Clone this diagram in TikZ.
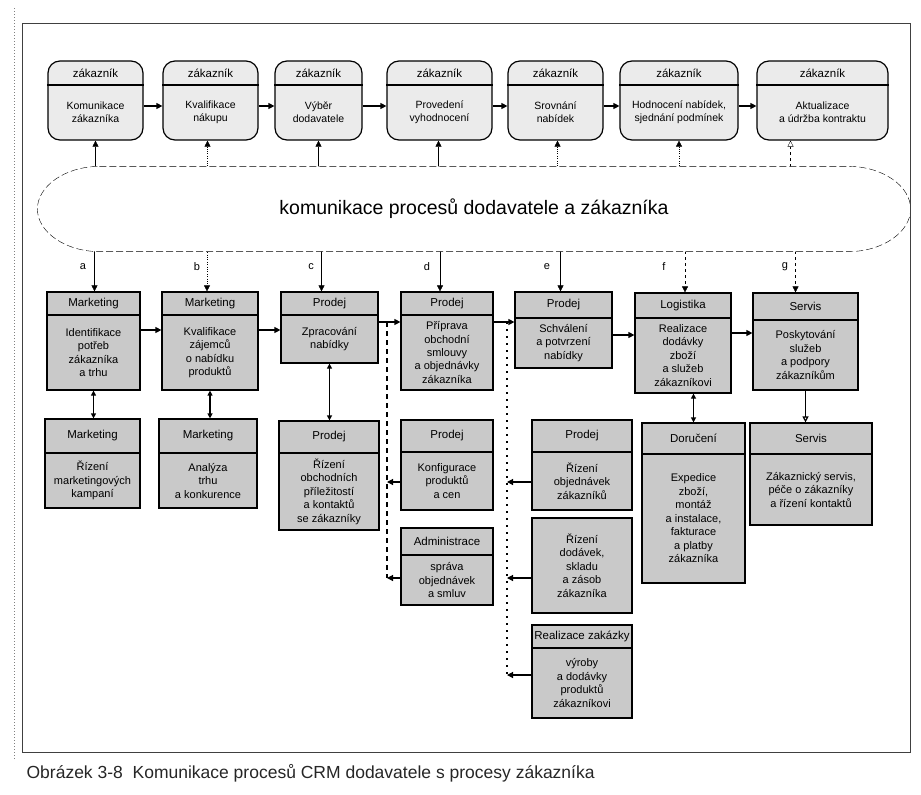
\documentclass[tikz,border=0pt]{standalone}
\usepackage{fontspec}
\setmainfont{Liberation Sans}
\usetikzlibrary{arrows.meta,backgrounds,calc}
\tikzset{
  arr/.style={-{Triangle[length=6pt,width=6pt]}},
  oarr/.style={-{Triangle[open,length=6pt,width=6pt]}},
  darr/.style={{Triangle[length=5pt,width=5pt]}-{Triangle[length=5pt,width=5pt]}},
  topbox/.style={draw, rounded corners=12pt, fill=gray!16, inner sep=0pt},
  lowbox/.style={draw, fill=gray!42, inner sep=0pt},
  hdr/.style={font=\fontsize{11.5}{12}\selectfont, inner sep=0pt},
  bdy/.style={font=\fontsize{11}{13.5}\selectfont, align=center, inner sep=0pt},
  tbdy/.style={font=\fontsize{10.5}{13}\selectfont, align=center, inner sep=0pt},
  lbl/.style={font=\fontsize{11}{12}\selectfont, inner sep=0pt},
}
\newcommand\TopBox[5]{%
  \node[topbox, minimum width={(#3-#2)*1pt}, minimum height=79pt] (#1) at ({(#2+#3)/2},100.5) {};
  \draw (#1.west |- 0,85) -- (#1.east |- 0,85);
  \node[hdr] (#1h) at (#1.center |- 0,73) {#4};
  \node[tbdy] (#1b) at (#1.center |- 0,112) {#5};
}
\newcommand\LowBox[8]{%
  \node[lowbox, minimum width={(#4-#2)*1pt}, minimum height={(#5-#3)*1pt}] (#1) at ({(#2+#4)/2},{(#3+#5)/2}) {};
  \draw (#1.west |- 0,#6) -- (#1.east |- 0,#6);
  \node[hdr] (#1h) at ({(#2+#4)/2},{(#3+#6)/2}) {#7};
  \node[bdy] (#1b) at ({(#2+#4)/2},{(#6+#5)/2}) {#8};
}
\begin{document}
\begin{tikzpicture}[x=1pt,y=-1pt,line width=1.2pt]
\useasboundingbox (0,0) rectangle (921,795);
% frame
\draw[black!75, line width=1pt] (22,23) rectangle (910,752);
\draw[black!50, dotted, line width=1pt] (14,8) -- (14,760);

% top row
\TopBox{t1}{48}{143}{zákazník}{Komunikace\\zákazníka}
\TopBox{t2}{163}{258}{zákazník}{Kvalifikace\\nákupu}
\TopBox{t3}{275}{362}{zákazník}{Výběr\\dodavatele}
\TopBox{t4}{387}{492}{zákazník}{Provedení\\vyhodnocení}
\TopBox{t5}{508}{603}{zákazník}{Srovnání\\nabídek}
\TopBox{t6}{620}{738}{zákazník}{Hodnocení nabídek,\\sjednání podmínek}
\TopBox{t7}{757}{888}{zákazník}{Aktualizace\\a údržba kontraktu}

\foreach \a/\b in {t1/t2,t2/t3,t3/t4,t4/t5,t5/t6,t6/t7}
  \draw[arr] (\a.east |- 0,106) -- (\b.west |- 0,106);

% ellipse
\node[font=\fontsize{19.5}{21}\selectfont, minimum width=872pt, minimum height=84pt, inner sep=0pt] (E) at (474,209) {komunikace procesů dodavatele a zákazníka};

% middle row
\LowBox{ma}{47}{292}{140}{390}{315}{Marketing}{Identifikace\\potřeb\\zákazníka\\a trhu}
\LowBox{mb}{162}{292}{258}{390}{315}{Marketing}{Kvalifikace\\zájemců\\o nabídku\\produktů}
\LowBox{mc}{281}{292}{378}{363}{315}{Prodej}{Zpracování\\nabídky}
\LowBox{md}{401}{292}{493}{390}{315}{Prodej}{Příprava\\obchodní\\smlouvy\\a objednávky\\zákazníka}
\LowBox{me}{515}{292}{612}{368}{318}{Prodej}{Schválení\\a potvrzení\\nabídky}
\LowBox{mf}{635}{293}{731}{393}{318}{Logistika}{Realizace\\dodávky\\zboží\\a služeb\\zákazníkovi}
\LowBox{mg}{753}{293}{858}{390}{320}{Servis}{Poskytování\\služeb\\a podpory\\zákazníkům}

% third row
\LowBox{la}{45}{419}{140}{508}{453}{Marketing}{Řízení\\marketingových\\kampaní}
\LowBox{lb}{159}{419}{257}{508}{453}{Marketing}{Analýza\\trhu\\a konkurence}
\LowBox{lc}{279}{421}{379}{530}{453}{Prodej}{Řízení\\obchodních\\příležitostí\\a kontaktů\\se zákazníky}
\LowBox{ld}{401}{420}{493}{510}{452}{Prodej}{Konfigurace\\produktů\\a cen}
\LowBox{le}{532}{420}{632}{510}{452}{Prodej}{Řízení\\objednávek\\zákazníků}
\LowBox{lf}{642}{423}{745}{583}{454}{Doručení}{Expedice\\zboží,\\montáž\\a instalace,\\fakturace\\a platby\\zákazníka}
\LowBox{lg}{750}{423}{872}{525}{454}{Servis}{Zákaznický servis,\\péče o zákazníky\\a řízení kontaktů}

% lower rows
\LowBox{ld2}{401}{528}{493}{605}{555}{Administrace}{správa\\objednávek\\a smluv}
\node[lowbox, minimum width=100pt, minimum height=95pt] (le2) at (582,565.5) {};
\node[bdy] (le2b) at (le2.center) {Řízení\\dodávek,\\skladu\\a zásob\\zákazníka};
\LowBox{le3}{532}{625}{632}{718}{648}{Realizace zakázky}{výroby\\a dodávky\\produktů\\zákazníkovi}

% horizontal arrows middle row
\draw[arr] (ma.east |- 0,330) -- (mb.west |- 0,330);
\draw[arr] (mb.east |- 0,330) -- (mc.west |- 0,330);
\draw[arr] (mc.east |- 0,322) -- (md.west |- 0,322);
\draw[arr] (md.east |- 0,322) -- (me.west |- 0,322);
\draw[arr] (me.east |- 0,335) -- (mf.west |- 0,335);
\draw[arr] (mf.east |- 0,333) -- (mg.west |- 0,333);

% vertical links middle -> third row
\draw[darr] (ma.south) -- (ma.south |- la.north);
\draw[darr] (mb.south) -- (mb.south |- lb.north);
\draw[darr] (mc.south) -- (mc.south |- lc.north);
\draw[darr] (lf.north |- mf.south) -- (lf.north);
\draw[oarr] (mg.south) -- (mg.south |- lg.north);

% dashed branches
\coordinate (dl1) at (387,322);
\coordinate (dl2) at (387,578);
\coordinate (el1) at (507,322);
\coordinate (el2) at (507,675);
\draw[dash pattern=on 5pt off 4pt] (dl1) -- (dl2);
\draw[dash pattern=on 2pt off 5pt] (el1) -- (el2);
\draw[arr] ([yshift=-17pt]ld.west) -- ([yshift=-17pt]ld.west -| dl1);
\draw[arr] ([yshift=-11.5pt]ld2.west) -- ([yshift=-11.5pt]ld2.west -| dl1);
\draw[arr] ([yshift=-17pt]le.west) -- ([yshift=-17pt]le.west -| el1);
\draw[arr] ([yshift=-12.5pt]le2.west) -- ([yshift=-12.5pt]le2.west -| el1);
\draw[arr] ([yshift=-3.5pt]le3.west) -- ([yshift=-3.5pt]le3.west -| el1);

% labels
\node[lbl] (la1) at (83,267) {a};
\node[lbl] (lb1) at (197,267) {b};
\node[lbl] (lc1) at (311,267) {c};
\node[lbl] (ld1) at (427,267) {d};
\node[lbl] (le1) at (547,267) {e};
\node[lbl] (lf1) at (664,267) {f};
\node[lbl] (lg1) at (785,267) {g};

\begin{scope}[on background layer]
  % up to customer processes
  \draw[arr] (t1.south |- E.center) -- (t1.south);
  \draw[arr, dotted] ([xshift=-3pt]t2.south |- E.center) -- ([xshift=-3pt]t2.south);
  \draw[arr] (t3.south |- E.center) -- (t3.south);
  \draw[arr] ([xshift=-1pt]t4.south |- E.center) -- ([xshift=-1pt]t4.south);
  \draw[arr, dotted] ([xshift=2pt]t5.south |- E.center) -- ([xshift=2pt]t5.south);
  \draw[arr, dotted] (t6.south |- E.center) -- (t6.south);
  \draw[oarr, dashed] ([xshift=-32pt]t7.south |- E.center) -- ([xshift=-32pt]t7.south);
  % down to supplier processes
  \draw[arr] ([xshift=1pt]ma.north |- E.center) -- ([xshift=1pt]ma.north);
  \draw[arr, dotted] ([xshift=-3pt]mb.north |- E.center) -- ([xshift=-3pt]mb.north);
  \draw[arr] ([xshift=-8pt]mc.north |- E.center) -- ([xshift=-8pt]mc.north);
  \draw[arr] ([xshift=-7pt]md.north |- E.center) -- ([xshift=-7pt]md.north);
  \draw[arr] ([xshift=-3pt]me.north |- E.center) -- ([xshift=-3pt]me.north);
  \draw[arr, dashed] ([xshift=2pt]mf.north |- E.center) -- ([xshift=2pt]mf.north);
  \draw[arr, dashed] ([xshift=-10pt]mg.north |- E.center) -- ([xshift=-10pt]mg.north);
  % ellipse outline
  \draw[dash pattern=on 7pt off 3pt, fill=white]
    ($(E.north west)+(62,0)$) -- ($(E.north east)+(-62,0)$)
    .. controls ($(E.north east)+(-28,0)$) and ($(E.east)+(0,-23)$) .. (E.east)
    .. controls ($(E.east)+(0,23)$) and ($(E.south east)+(-28,0)$) .. ($(E.south east)+(-62,0)$)
    -- ($(E.south west)+(62,0)$)
    .. controls ($(E.south west)+(28,0)$) and ($(E.west)+(0,23)$) .. (E.west)
    .. controls ($(E.west)+(0,-23)$) and ($(E.north west)+(28,0)$) .. ($(E.north west)+(62,0)$)
    -- cycle;
\end{scope}

% caption
\node[anchor=west, font=\fontsize{17.5}{19}\selectfont, text=black!85, inner sep=0pt] (cap) at (26,773) {Obrázek 3-8\ \ Komunikace procesů CRM dodavatele s procesy zákazníka};
\end{tikzpicture}
\end{document}
